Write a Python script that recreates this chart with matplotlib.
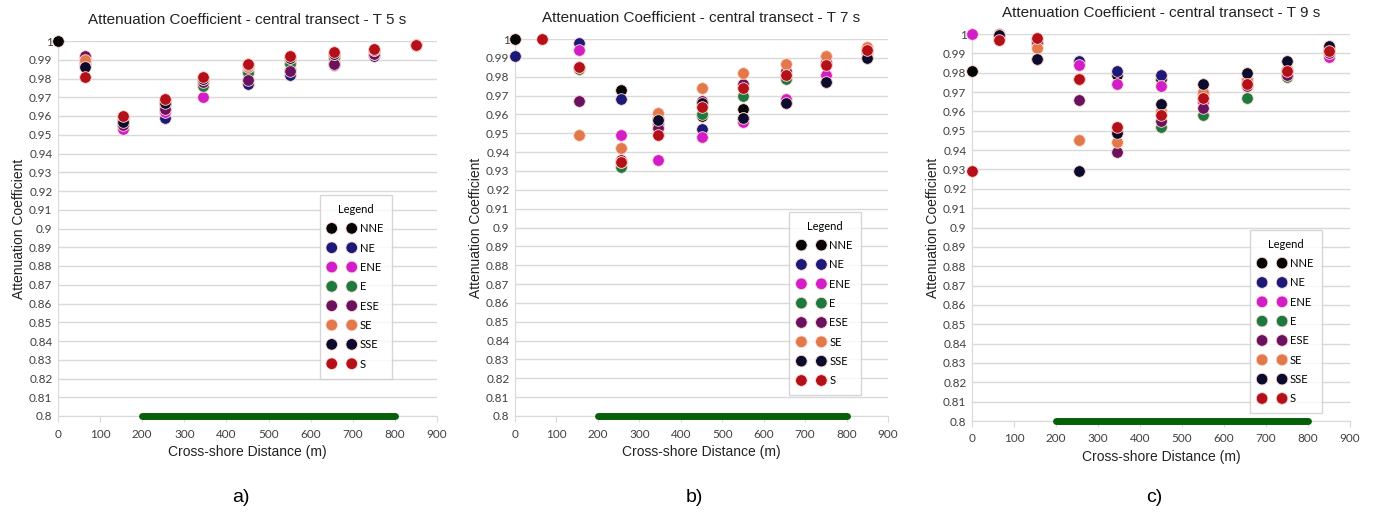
import numpy as np
import matplotlib
matplotlib.use("Agg")
from matplotlib import pyplot as plt

# cross-shore positions (m)
dist = [0, 65, 155, 255, 345, 450, 550, 655, 750, 850]
directions = ['NNE', 'NE', 'ENE', 'E', 'ESE', 'SE', 'SSE', 'S']
dir_colors = ['#050505', '#1b1a78', '#d21ec8', '#1d7a3e', '#6a115f', '#e2794b', '#0b0b2e', '#b3101a']
nan = np.nan

# T 5 s
t5 = {
    'NNE': [1.000, 0.988, 0.958, 0.967, 0.979, 0.984, 0.989, 0.992, 0.994, 0.998],
    'NE':  [nan, 0.991, 0.955, 0.959, 0.979, 0.977, 0.982, 0.987, 0.992, 0.998],
    'ENE': [nan, 0.990, 0.953, 0.962, 0.970, 0.980, 0.985, 0.989, 0.993, 0.998],
    'E':   [nan, 0.989, 0.956, 0.966, 0.976, 0.983, 0.988, 0.991, 0.994, 0.998],
    'ESE': [nan, 0.992, 0.955, 0.964, 0.978, 0.979, 0.984, 0.988, 0.993, 0.998],
    'SE':  [nan, 0.990, 0.959, 0.968, 0.980, 0.986, 0.991, 0.993, 0.995, 0.998],
    'SSE': [nan, 0.986, 0.957, 0.967, 0.980, 0.987, 0.991, 0.993, 0.995, 0.998],
    'S':   [nan, 0.981, 0.960, 0.969, 0.981, 0.988, 0.992, 0.994, 0.996, 0.998],
}
# T 7 s
t7 = {
    'NNE': [1.000, nan, 0.984, 0.973, 0.958, 0.959, 0.963, 0.980, 0.987, 0.993],
    'NE':  [0.991, nan, 0.998, 0.968, 0.955, 0.952, 0.958, 0.966, 0.977, 0.990],
    'ENE': [nan, nan, 0.994, 0.949, 0.936, 0.948, 0.956, 0.968, 0.981, 0.991],
    'E':   [nan, nan, 0.984, 0.932, 0.950, 0.960, 0.970, 0.979, 0.987, 0.993],
    'ESE': [nan, nan, 0.967, 0.936, 0.953, 0.967, 0.976, 0.983, 0.988, 0.995],
    'SE':  [nan, nan, 0.949, 0.942, 0.961, 0.974, 0.982, 0.987, 0.991, 0.996],
    'SSE': [nan, nan, 0.985, 0.935, 0.957, 0.966, 0.958, 0.966, 0.977, 0.990],
    'S':   [nan, 1.000, 0.985, 0.935, 0.949, 0.964, 0.974, 0.981, 0.986, 0.994],
}
# T 9 s
t9 = {
    'NNE': [0.981, 1.000, 0.987, 0.977, 0.979, 0.977, 0.969, 0.977, 0.982, 0.993],
    'NE':  [nan, 0.9995, 0.996, 0.986, 0.981, 0.979, 0.966, 0.975, 0.980, 0.992],
    'ENE': [1.000, 0.998, 0.997, 0.984, 0.974, 0.973, 0.965, 0.974, 0.979, 0.988],
    'E':   [nan, 0.998, 0.995, 0.977, 0.950, 0.952, 0.958, 0.967, 0.978, 0.990],
    'ESE': [nan, 0.999, 0.996, 0.966, 0.939, 0.955, 0.962, 0.973, 0.979, 0.990],
    'SE':  [nan, 0.998, 0.993, 0.945, 0.944, 0.960, 0.970, 0.976, 0.982, 0.992],
    'SSE': [nan, 0.9995, 0.987, 0.929, 0.949, 0.964, 0.974, 0.980, 0.986, 0.994],
    'S':   [0.929, 0.997, 0.998, 0.977, 0.952, 0.958, 0.967, 0.974, 0.981, 0.991],
}
periods = ['5', '7', '9']
panel_letters = ['a)', 'b)', 'c)']
bar_range = [200, 800]

W, H = 1378, 518
fig = plt.figure(figsize=(W / 100, H / 100), dpi=100)
# axes boxes in pixels: left, right, top, bottom
boxes = [(58, 437, 41, 416), (515, 888, 39, 416), (972, 1350, 34, 421)]
leg_pos = [(0.69, 0.10), (0.735, 0.055), (0.735, 0.02)]

tick_font = 'Lato'
txt_font = 'Liberation Sans'
grid_c = '#d9d9d9'

for i, data in enumerate([t5, t7, t9]):
    l, r, t, b = boxes[i]
    ax = fig.add_axes([l / W, (H - b) / H, (r - l) / W, (b - t) / H])
    for d, c in zip(directions, dir_colors):
        ax.scatter(dist, data[d], s=70, color=c, edgecolors='#ffd8d0', linewidths=0.6,
                   label=d, zorder=3, clip_on=False)
    ax.plot(bar_range, [0.8, 0.8], color='#056008', lw=5, solid_capstyle='round', zorder=4,
            clip_on=False)
    ax.set_xlim(0, 900)
    ax.set_ylim(0.8, 1.0)
    ax.set_xticks(np.arange(0, 901, 100))
    yt = np.round(np.arange(0.8, 1.0001, 0.01), 2)
    ax.set_yticks(yt)
    ax.set_yticklabels(['{:g}'.format(v) for v in yt])
    ax.grid(axis='y', color=grid_c, lw=1)
    ax.set_axisbelow(True)
    for s in ['top', 'right']:
        ax.spines[s].set_visible(False)
    ax.spines['left'].set_color(grid_c)
    ax.spines['bottom'].set_color(grid_c)
    ax.tick_params(axis='y', length=0, pad=4, labelsize=8.5, labelcolor='#404040')
    ax.tick_params(axis='x', length=4, color=grid_c, pad=5, labelsize=8.5, labelcolor='#404040')
    for lab in ax.get_xticklabels() + ax.get_yticklabels():
        lab.set_family(tick_font)
    ax.set_title('Attenuation Coefficient - central transect - T ' + periods[i] + ' s',
                 fontsize=11, family=txt_font, pad=12, color='#222222')
    ax.set_xlabel('Cross-shore Distance (m)', fontsize=10, family=txt_font, labelpad=4,
                  color='#222222')
    ax.set_ylabel('Attenuation Coefficient', fontsize=10, family=txt_font, labelpad=2,
                  color='#222222')
    leg = ax.legend(title='Legend', loc='lower left', bbox_to_anchor=leg_pos[i],
                    scatterpoints=2, scatteryoffsets=[0.5], frameon=True, fancybox=False,
                    edgecolor='#cccccc', handletextpad=0.4, labelspacing=0.75,
                    borderpad=0.8, handlelength=2.4, borderaxespad=0,
                    prop={'family': tick_font, 'size': 8},
                    title_fontproperties={'family': tick_font, 'size': 8})
    leg.get_frame().set_linewidth(1)
    fig.text((l + r) / 2 / W - 0.005, 1 - 497 / H, panel_letters[i], fontsize=14,
             family=txt_font, ha='center', va='center')

fig.savefig('out.png', dpi=100)
